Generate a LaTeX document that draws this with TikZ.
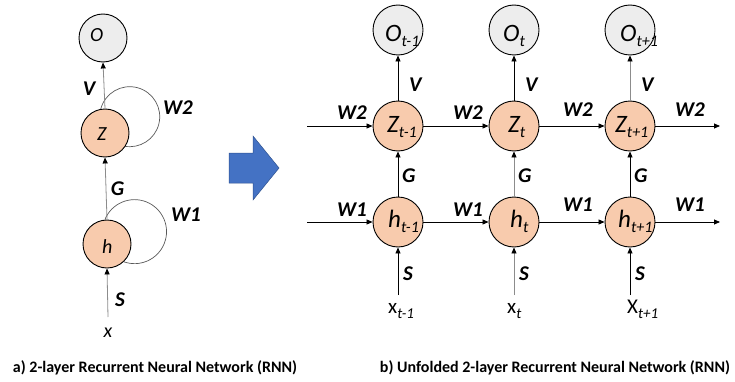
\documentclass[tikz,border=0pt]{standalone}
\usepackage{fontspec}
\setmainfont{Carlito}
\usetikzlibrary{arrows.meta,backgrounds}
\definecolor{cellfill}{HTML}{F8CBAD}
\definecolor{outfill}{HTML}{EDEDED}
\definecolor{bigarrow}{HTML}{4472C4}
\definecolor{bigarrowedge}{HTML}{2F528F}
\definecolor{softline}{HTML}{8C8C8C}
\definecolor{loopline}{HTML}{595959}
% italic subscript, lowered below the baseline
\newcommand\lowidx[2][16]{\raisebox{-5pt}{\fontsize{#1}{#1}\selectfont\itshape #2}}
\begin{document}
\begin{tikzpicture}[x=1pt,y=1pt,
  cell/.style={circle, draw, line width=0.9pt, inner sep=0pt, fill=cellfill},
  outcell/.style={cell, fill=outfill},
  leftcell/.style={minimum size=48pt},
  rightcell/.style={minimum size=50pt},
  bigname/.style={font=\fontsize{25}{25}\selectfont\itshape, inner sep=0pt, anchor=base west},
  smallname/.style={font=\fontsize{20}{20}\selectfont\itshape, inner sep=0pt, anchor=base west},
  weight/.style={font=\fontsize{21}{21}\selectfont\bfseries\itshape, inner sep=0pt},
  inlabel/.style={font=\fontsize{21}{21}\selectfont, inner sep=0pt, anchor=base west},
  conn/.style={line width=0.8pt, -{Triangle[length=6pt,width=5pt,color=black]}},
  softconn/.style={conn, draw=softline},
  selfloop/.style={line width=0.7pt, draw=loopline},
  caption/.style={font=\fontsize{16}{16}\selectfont\bfseries, inner sep=0pt}
]
\useasboundingbox (0,0) rectangle (735,381);

% ---------- folded network ----------
\node[outcell, leftcell] (O) at (103,343) {};
\node[cell, leftcell] (Z) at (105,248) {};
\node[cell, leftcell] (h) at (107,137) {};
\node[smallname] (Otext) at (90,339) {O};
\node[smallname] (Ztext) at (97,241) {Z};
\node[smallname] (htext) at (102,128) {h};
\node[font=\fontsize{20}{20}\selectfont\itshape, inner sep=0pt] (xin) at (108,48) {x};
\coordinate (xstart) at (108,64);

\draw[softconn] (Z.north) -- (O.south);
\draw[softconn] (h.north) -- (Z.south);
\draw[softconn] (xstart) -- (h.south);
\begin{scope}[on background layer]
  \draw[selfloop] (Z.100) arc[start angle=165, end angle=-100, radius=30];
  \draw[selfloop] (h.95) arc[start angle=158, end angle=-110, radius=32];
\end{scope}

\node[weight] (Vl) at (89,292.5) {V};
\node[weight] (W2l) at (178,273.5) {W2};
\node[weight] (Gl) at (117.5,192) {G};
\node[weight] (W1l) at (186,166) {W1};
\node[weight] (Sl) at (120,81) {S};

% ---------- unfolding arrow ----------
\draw[fill=bigarrow, draw=bigarrowedge, line width=0.5pt]
  (229,228) -- (253,228) -- (253,245) -- (279,213) -- (253,181) -- (253,198) -- (229,198) -- cycle;

% ---------- unfolded network ----------
\foreach \i/\x in {1/398, 2/514, 3/630} {
  \node[outcell, rightcell] (O\i) at (\x,351) {};
  \node[cell, rightcell] (Z\i) at (\x,255) {};
  \node[cell, rightcell] (h\i) at (\x,159) {};
  \coordinate (x\i) at (\x,86);
}
\node[bigname] (O1text) at (385,339) {O\lowidx{t-1}};
\node[bigname] (O2text) at (503,339) {O\lowidx{t}};
\node[bigname] (O3text) at (620,339) {O\lowidx{t+1}};
\node[bigname] (Z1text) at (387,249) {Z\lowidx{t-1}};
\node[bigname] (Z2text) at (508,249) {Z\lowidx{t}};
\node[bigname] (Z3text) at (615,249) {Z\lowidx{t+1}};
\node[bigname] (h1text) at (388,154) {h\lowidx{t-1}};
\node[bigname] (h2text) at (510,154) {h\lowidx{t}};
\node[bigname] (h3text) at (618,154) {h\lowidx{t+1}};

\node[inlabel] (x1text) at (388,68) {x\lowidx[15]{t-1}};
\node[inlabel] (x2text) at (507,68) {x\lowidx[15]{t}};
\node[inlabel] (x3text) at (627,68) {X\lowidx[15]{t+1}};

% vertical connections
\draw[conn] (Z1.north) -- (O1.south);
\draw[conn] (Z2.north) -- (O2.south);
\draw[softconn] (Z3.north) -- (O3.south);
\draw[conn] (h1.north) -- (Z1.south);
\draw[softconn] (h2.north) -- (Z2.south);
\draw[conn] (h3.north) -- (Z3.south);
\draw[conn] (x1) -- (h1.south);
\draw[softconn] (x2) -- (h2.south);
\draw[conn] (x3) -- (h3.south);

% recurrent connections through time
\coordinate (Zin) at (307,255);
\coordinate (Zout) at (720,255);
\coordinate (hin) at (307,159);
\coordinate (hout) at (720,159);
\draw[conn] (Zin) -- (Z1.west);
\draw[conn] (Z1.east) -- (Z2.west);
\draw[conn] (Z2.east) -- (Z3.west);
\draw[conn] (Z3.east) -- (Zout);
\draw[conn] (hin) -- (h1.west);
\draw[conn] (h1.east) -- (h2.west);
\draw[conn] (h2.east) -- (h3.west);
\draw[conn] (h3.east) -- (hout);

% weight labels
\foreach \i/\x in {1/398, 2/514, 3/630} {
  \node[weight, anchor=west] (V\i) at (\x+11,296) {V};
  \node[weight, anchor=west] (G\i) at (\x+4,205) {G};
  \node[weight, anchor=west] (S\i) at (\x+5,107) {S};
}
\node[weight] (W2a) at (352,268) {W2};
\node[weight] (W2b) at (468,268) {W2};
\node[weight] (W2c) at (578,271) {W2};
\node[weight] (W2d) at (690,271) {W2};
\node[weight] (W1a) at (352,171.5) {W1};
\node[weight] (W1b) at (468,171.5) {W1};
\node[weight] (W1c) at (578,176) {W1};
\node[weight] (W1d) at (690,176) {W1};

% ---------- captions ----------
\node[caption] (capa) at (155,13) {a) 2-layer Recurrent Neural Network (RNN)};
\node[caption] (capb) at (555,13) {b) Unfolded 2-layer Recurrent Neural Network (RNN)};
\end{tikzpicture}
\end{document}
